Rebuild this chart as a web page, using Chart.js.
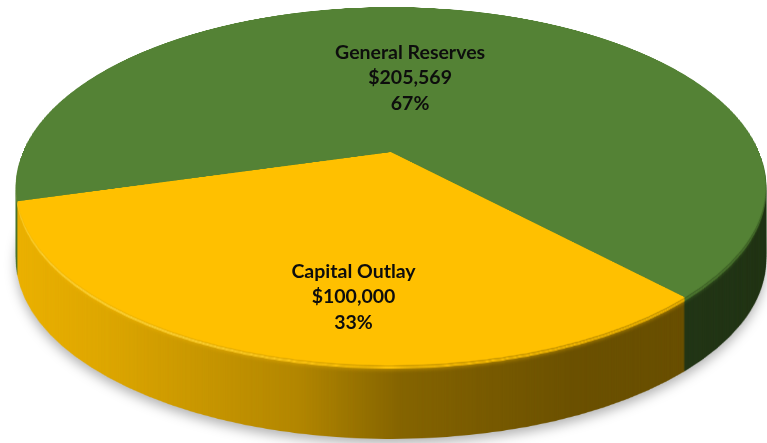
<!DOCTYPE html>
<html>
<head>
<meta charset="utf-8">
<script src="https://cdn.jsdelivr.net/npm/chart.js@4/dist/chart.umd.min.js"></script>
<style>
  html, body { margin: 0; padding: 0; background: #ffffff; }
  #wrap { width: 767px; height: 443px; overflow: hidden; position: relative; }
  #pie { display: block; }
</style>
</head>
<body>
<div id="wrap"><canvas id="pie" width="767" height="767"></canvas></div>
<script>
const categories = ['Capital Outlay', 'General Reserves'];
const amounts = [100000, 205569];
const sliceColors = ['#FFC000', '#548235'];

// Tilted-disc view: the flat pie is re-projected row by row so the far
// half looks compressed and the near half enlarged, then extruded.
const view = { cx: 391, cy: 152, rx: 368, ry: 172.5, tilt: 0.19, depth: 74, bevel: 9, outW: 767, outH: 443 };

function project(u, w) {
  const s = 1 / (1 - view.tilt * w);
  return { x: view.cx + u * view.rx * s, y: view.cy + w * view.ry * s };
}

function makeCanvas(w, h) {
  const c = document.createElement('canvas');
  c.width = w; c.height = h;
  return c;
}

function tinted(src, stops) {
  const c = makeCanvas(src.width, src.height);
  const g2 = c.getContext('2d');
  g2.drawImage(src, 0, 0);
  g2.globalCompositeOperation = 'source-atop';
  const g = g2.createLinearGradient(0, 0, src.width, 0);
  stops.forEach(([p, col]) => g.addColorStop(p, col));
  g2.fillStyle = g;
  g2.fillRect(0, 0, src.width, src.height);
  return c;
}

const tiltPlugin = {
  id: 'tilt3d',
  afterDatasetsDraw(chart) {
    const canvas = chart.canvas, ctx = chart.ctx;
    const arc = chart.getDatasetMeta(0).data[0];
    const scx = arc.x, scy = arc.y, sr = arc.outerRadius;
    const W = canvas.width, H = canvas.height;

    const flat = makeCanvas(W, H);
    flat.getContext('2d').drawImage(canvas, 0, 0);

    // top face
    const top = makeCanvas(view.outW, view.outH);
    const tctx = top.getContext('2d');
    tctx.imageSmoothingEnabled = true;
    const wAt = y => { const d = y - view.cy; return d / (view.ry + view.tilt * d); };
    const yTop = project(0, -1).y, yBot = project(0, 1).y;
    for (let y = Math.floor(yTop); y < Math.ceil(yBot); y++) {
      const w0 = wAt(y), w1 = wAt(y + 1);
      const wm = (w0 + w1) / 2;
      const k = view.rx / (1 - view.tilt * wm) / sr;
      const a = Math.max(0, scy + w0 * sr), b = Math.min(H, scy + w1 * sr);
      if (b <= a) continue;
      tctx.drawImage(flat, 0, a, W, b - a, view.cx - scx * k, y, W * k, 1);
    }

    // shaded wall, lit from the left
    const side = tinted(top, [
      [0.00, 'rgba(0,0,0,0.07)'],
      [0.13, 'rgba(0,0,0,0.13)'],
      [0.39, 'rgba(0,0,0,0.30)'],
      [0.52, 'rgba(0,0,0,0.48)'],
      [0.75, 'rgba(0,0,0,0.58)'],
      [1.00, 'rgba(0,0,0,0.60)']
    ]);
    // glint along the rounded rim, strongest on the left
    const glint = tinted(top, [
      [0.00, 'rgba(255,245,150,0.55)'],
      [0.25, 'rgba(255,245,150,0.40)'],
      [0.45, 'rgba(255,245,150,0.05)'],
      [1.00, 'rgba(255,245,150,0.00)']
    ]);

    ctx.save();
    ctx.setTransform(1, 0, 0, 1, 0, 0);
    ctx.clearRect(0, 0, W, H);
    ctx.save();
    ctx.shadowColor = 'rgba(0,0,0,0.30)';
    ctx.shadowBlur = 12;
    ctx.shadowOffsetY = 5;
    ctx.drawImage(side, 0, view.depth);
    ctx.restore();
    for (let d = view.depth - 1; d >= 1; d--) {
      ctx.drawImage(side, 0, d);
      if (d <= view.bevel) {
        // rounded edge: blend from the top colour into the wall
        const t = 1 - d / (view.bevel + 1);
        ctx.globalAlpha = t * t;
        ctx.drawImage(top, 0, d);
        ctx.globalAlpha = 1;
        if (d >= 2 && d <= 4) {
          ctx.globalAlpha = d === 3 ? 1 : 0.6;
          ctx.drawImage(glint, 0, d);
          ctx.globalAlpha = 1;
        }
      }
    }
    ctx.drawImage(top, 0, 0);
    ctx.restore();
  }
};

const labelPlugin = {
  id: 'sliceLabels',
  afterDraw(chart, args, opts) {
    const ctx = chart.ctx;
    const meta = chart.getDatasetMeta(0);
    const values = chart.data.datasets[0].data;
    const total = values.reduce((a, b) => a + b, 0);
    ctx.save();
    ctx.setTransform(1, 0, 0, 1, 0, 0);
    ctx.font = opts.font;
    ctx.fillStyle = opts.color;
    ctx.textAlign = 'center';
    ctx.textBaseline = 'middle';
    meta.data.forEach((el, i) => {
      const mid = (el.startAngle + el.endAngle) / 2 - opts.shift * Math.PI / 180;
      const f = opts.radius[i];
      const p = project(Math.cos(mid) * f, Math.sin(mid) * f);
      const lines = [
        chart.data.labels[i],
        '$' + values[i].toLocaleString('en-US'),
        Math.round(values[i] / total * 100) + '%'
      ];
      lines.forEach((t, j) => ctx.fillText(t, p.x, p.y + (j - 1) * opts.lineHeight));
    });
    ctx.restore();
  }
};

new Chart(document.getElementById('pie'), {
  type: 'pie',
  data: {
    labels: categories,
    datasets: [{ data: amounts, backgroundColor: sliceColors, borderWidth: 0 }]
  },
  options: {
    responsive: false,
    animation: false,
    events: [],
    rotation: 136.5,
    layout: { padding: 0 },
    plugins: {
      legend: { display: false },
      tooltip: { enabled: false },
      sliceLabels: {
        radius: [0.73, 0.47],
        shift: 8.5,
        font: 'bold 19.5px Lato',
        color: '#0d0d0d',
        lineHeight: 25.5
      }
    }
  },
  plugins: [tiltPlugin, labelPlugin]
});
</script>
</body>
</html>
